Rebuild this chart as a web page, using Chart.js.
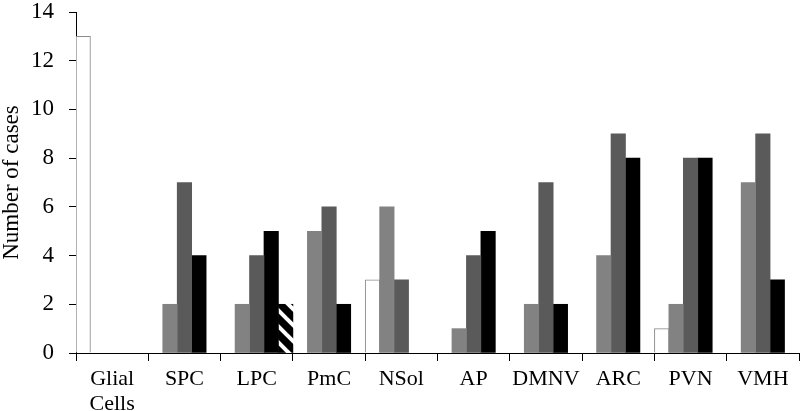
<!DOCTYPE html>
<html>
<head>
<meta charset="utf-8">
<script src="https://cdn.jsdelivr.net/npm/chart.js@4/dist/chart.umd.min.js"></script>
<style>
  html, body { margin: 0; padding: 0; background: #fff; }
  #wrap { width: 800px; height: 411px; }
</style>
</head>
<body>
<div id="wrap"><canvas id="casesChart"></canvas></div>
<script>
const categories = [['Glial', 'Cells'], 'SPC', 'LPC', 'PmC', 'NSol', 'AP', 'DMNV', 'ARC', 'PVN', 'VMH'];
const whiteSeries     = [13, null, null, null, 3, null, null, null, 1, null];
const lightGraySeries = [null, 2, 2, 5, 6, 1, 2, 4, 2, 7];
const darkGraySeries  = [null, 7, 4, 6, 3, 4, 7, 9, 8, 9];
const blackSeries     = [null, 4, 5, 2, null, 5, 2, 8, 8, 3];
const hatchedSeries   = [null, null, 2, null, null, null, null, null, null, null];
const yTicks = [0, 2, 4, 6, 8, 10, 12, 14];

// diagonal black/white hatch for the last series
function makeHatch() {
    const c = document.createElement('canvas');
    c.width = 16; c.height = 16;
    const g = c.getContext('2d');
    g.fillStyle = '#000';
    g.fillRect(0, 0, 16, 16);
    g.strokeStyle = '#fff';
    g.lineWidth = 4;
    for (let k = -16; k <= 16; k += 16) {
        g.beginPath();
        g.moveTo(k - 2, -2);
        g.lineTo(k + 18, 18);
        g.stroke();
    }
    return g.createPattern(c, 'repeat');
}

const serif = '"Liberation Serif", "Times New Roman", serif';
const ctx = document.getElementById('casesChart').getContext('2d');

new Chart(ctx, {
    type: 'bar',
    data: {
        labels: categories,
        datasets: [
            { data: whiteSeries, backgroundColor: '#fff', borderColor: '#8a8a8a', borderWidth: 1 },
            { data: lightGraySeries, backgroundColor: '#828282' },
            { data: darkGraySeries, backgroundColor: '#5a5a5a' },
            { data: blackSeries, backgroundColor: '#000' },
            { data: hatchedSeries, backgroundColor: makeHatch() }
        ]
    },
    options: {
        responsive: true,
        maintainAspectRatio: false,
        animation: false,
        layout: { padding: { top: 12, right: 1, left: 0, bottom: 0 } },
        plugins: {
            legend: { display: false },
            tooltip: { enabled: false }
        },
        datasets: {
            bar: { barPercentage: 1, categoryPercentage: 1, borderSkipped: 'bottom' }
        },
        scales: {
            x: {
                offset: true,
                grid: { offset: true, drawOnChartArea: false, drawTicks: true, tickLength: 8, color: '#000' },
                border: { color: '#000', width: 1 },
                ticks: { color: '#000', font: { family: serif, size: 22, lineHeight: 1.12 }, maxRotation: 0, autoSkip: false, padding: 6 },
                afterFit: function(scale) { scale.height = 58; scale.paddingLeft = 0; scale.paddingRight = 0; }
            },
            y: {
                min: 0,
                max: 14,
                afterBuildTicks: function(scale) { scale.ticks = yTicks.map(v => ({ value: v })); },
                grid: { drawOnChartArea: false, drawTicks: true, tickLength: 7, color: '#000' },
                border: { color: '#000', width: 1 },
                ticks: { color: '#000', font: { family: serif, size: 23 }, padding: 15 },
                title: { display: true, text: 'Number of cases', color: '#000', font: { family: serif, size: 23, lineHeight: 1.0 }, padding: 0 },
                afterFit: function(scale) { scale.width = 76; scale.paddingTop = 0; scale.paddingBottom = 0; }
            }
        }
    }
});
</script>
</body>
</html>
